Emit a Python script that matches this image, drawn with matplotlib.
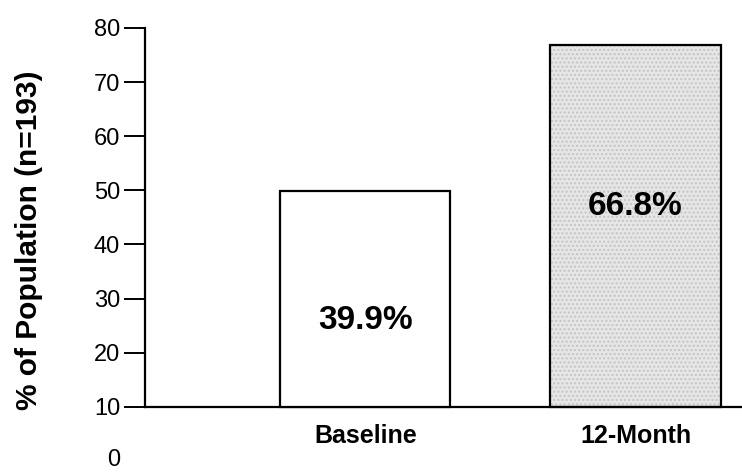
import matplotlib
matplotlib.use("Agg")
import matplotlib.pyplot as plt
import matplotlib.transforms as mtransforms

categories = ["Baseline", "12-Month"]
values = [39.9, 66.8]
value_labels = ["39.9%", "66.8%"]
ytick_values = [0, 10, 20, 30, 40, 50, 60, 70, 80]
ytick_labels = ["0", "10", "20", "30", "40", "50", "60", "70", "80"]
ylabel = "% of Population (n=193)"

plt.rcParams['font.family'] = ['Liberation Sans', 'DejaVu Sans']

fig = plt.figure(figsize=(7.42, 4.72), dpi=100)
ax = fig.add_axes([145/742, 11/472, 597/742, 433/472])

base = 10
x = [0, 1]
width = 0.63
fills = ["white", "#e6e6e6"]
# stipple effect for second bar
ax.bar(x[1], values[1], width=width, bottom=base, color=fills[1],
       hatch="....", edgecolor="#c4c4c4", linewidth=0, zorder=2)
ax.bar(x, values, width=width, bottom=base, color=["white", "none"],
       edgecolor="black", linewidth=1.6, zorder=3)

label_y = [base + values[0] * 0.40, base + values[1] * 0.555]
for xi, lab, ly in zip(x, value_labels, label_y):
    ax.text(xi, ly, lab, ha="center", va="center", fontsize=24,
            fontweight="bold", zorder=4)

ax.set_xlim(-0.815, 1.394)
ax.set_ylim(0, 80)

for s in ["top", "right"]:
    ax.spines[s].set_visible(False)
ax.spines["bottom"].set_position(("data", base))
ax.spines["left"].set_bounds(base, 80)
ax.spines["left"].set_linewidth(1.6)
ax.spines["bottom"].set_linewidth(1.6)

ax.set_yticks(ytick_values)
ax.set_yticklabels(ytick_labels, fontsize=17)
ax.tick_params(axis="y", length=15, width=1.4, pad=3)
t0 = ax.yaxis.get_major_ticks()[0]
t0.tick1line.set_visible(False)

ax.set_xticks(x)
ax.set_xticklabels(categories, fontsize=18, fontweight="bold")
ax.tick_params(axis="x", length=0, pad=12)

fig.text(29/742, 1 - 240/472, ylabel, rotation=90, ha="center", va="center",
         fontsize=21.5, fontweight="bold")

# nudge the "0" label up slightly so it stays inside the canvas
fig.canvas.draw()
lbl0 = t0.label1
lbl0.set_transform(lbl0.get_transform() +
                   mtransforms.ScaledTranslation(0, 4/100, fig.dpi_scale_trans))

fig.savefig("out.png", dpi=100)
